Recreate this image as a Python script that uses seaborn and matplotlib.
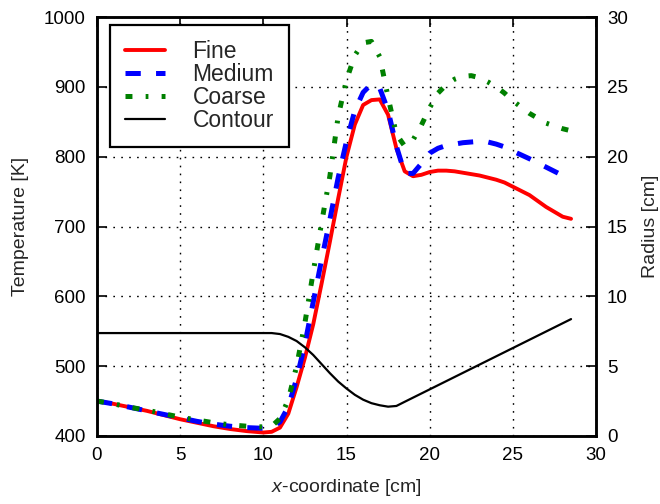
import matplotlib
matplotlib.use("Agg")
import matplotlib.pyplot as plt
import seaborn as sns
import pandas as pd

# Axial positions shared by the temperature profiles [cm]
x_cm = [0, 1, 2, 3, 4, 5, 6, 7, 8, 9, 10,
        10.5, 11, 11.5, 12, 12.5, 13, 13.5, 14, 14.5, 15, 15.5, 16, 16.5,
        17, 17.5, 18, 18.5, 19, 19.5, 20, 20.5, 21, 21.5, 22, 22.5, 23,
        23.5, 24, 24.5, 25, 26, 27, 28, 28.5]

# Temperature profiles for the three grid resolutions [K]
fine = [450, 446, 441, 436, 430, 424, 419, 414, 410, 407, 405,
        406, 412, 432, 470, 512, 560, 618, 678, 740, 800, 846, 874, 881,
        882, 860, 812, 779, 772, 774, 778, 780, 780, 779, 777, 775, 773,
        770, 767, 763, 757, 745, 728, 714, 711]
medium = [450, 446, 441, 436, 431, 426, 421, 417, 414, 412, 411,
          413, 420, 442, 482, 532, 592, 652, 710, 770, 822, 866, 892, 904,
          898, 866, 815, 776, 776, 790, 805, 812, 816, 818, 820, 821, 822,
          821, 818, 814, 808, 797, 785, 773, 770]
coarse = [450, 446, 441, 437, 432, 427, 423, 419, 416, 414, 413,
          414, 425, 452, 500, 562, 635, 705, 772, 858, 910, 945, 963, 965,
          943, 885, 832, 815, 824, 845, 870, 891, 903, 911, 915, 916, 913,
          907, 900, 891, 880, 862, 848, 840, 837]

# Nozzle wall contour [cm]
x_contour = [0, 10.5, 11, 11.5, 12, 12.5, 13, 13.5, 14, 14.5, 15, 15.5,
             16, 16.5, 17, 17.5, 18, 18.5, 28.5]
radius = [7.37, 7.37, 7.3, 7.1, 6.8, 6.35, 5.8, 5.15, 4.5, 3.9, 3.4, 2.95,
          2.6, 2.35, 2.2, 2.1, 2.15, 2.45, 8.37]

x_ticks = [0, 5, 10, 15, 20, 25, 30]
t_ticks = [400, 500, 600, 700, 800, 900, 1000]
r_ticks = [0, 5, 10, 15, 20, 25, 30]

sns.set_style("white")
plt.rcParams["font.family"] = ["Liberation Sans", "DejaVu Sans"]
plt.rcParams["lines.scale_dashes"] = False
plt.rcParams["mathtext.fontset"] = "custom"
plt.rcParams["mathtext.it"] = "Liberation Sans:italic"
plt.rcParams["mathtext.rm"] = "Liberation Sans"

temps = pd.DataFrame({"x": x_cm, "Fine": fine, "Medium": medium, "Coarse": coarse})
wall = pd.DataFrame({"x": x_contour, "r": radius})

fig = plt.figure(figsize=(6.6, 5.04), dpi=100)
ax = fig.add_axes([97 / 660, 1 - 436 / 504, 499 / 660, 419 / 504])
ax2 = ax.twinx()

sns.lineplot(data=temps, x="x", y="Fine", ax=ax, color="#ff0000",
             linewidth=2.8, sort=False, label="Fine")
sns.lineplot(data=temps, x="x", y="Medium", ax=ax, color="#0000ff",
             linewidth=3.6, sort=False, label="Medium",
             linestyle=(0, (11, 11)))
sns.lineplot(data=temps, x="x", y="Coarse", ax=ax, color="#008000",
             linewidth=3.6, sort=False, label="Coarse",
             linestyle=(0, (5, 9.5, 2, 9.5)))
sns.lineplot(data=wall, x="x", y="r", ax=ax2, color="black",
             linewidth=1.6, sort=False, label="Contour")

ax.set_xlim(0, 30)
ax.set_ylim(400, 1000)
ax2.set_ylim(0, 30)
ax.set_xticks(x_ticks)
ax.set_yticks(t_ticks)
ax2.set_yticks(r_ticks)

ax.grid(True, color="black", linestyle=(0, (1.2, 4.5)), linewidth=1.0)
ax.set_axisbelow(True)

for a in (ax, ax2):
    for s in a.spines.values():
        s.set_linewidth(1.8)
        s.set_color("black")
ax.tick_params(axis="both", direction="in", length=7, width=1.2,
               labelsize=13.5, pad=8, top=True, right=False, colors="black")
ax2.tick_params(axis="y", direction="in", length=7, width=1.2,
                labelsize=13.5, pad=8, colors="black")

ax.set_xlabel("$x$-coordinate [cm]", fontsize=14, labelpad=9)
ax.set_ylabel("Temperature [K]", fontsize=14, labelpad=11)
ax2.set_ylabel("Radius [cm]", fontsize=14, labelpad=10)

h1, l1 = ax.get_legend_handles_labels()
h2, l2 = ax2.get_legend_handles_labels()
ax.get_legend().remove()
ax2.get_legend().remove()
leg = ax2.legend(h1 + h2, l1 + l2, loc="upper left",
                 bbox_to_anchor=(0.026, 0.981), borderaxespad=0,
                 fontsize=16.5, handlelength=1.75, handletextpad=1.2,
                 labelspacing=0.0, borderpad=0.65, fancybox=False,
                 framealpha=1, edgecolor="black")
leg.get_frame().set_linewidth(1.6)

fig.savefig("out.png", dpi=100)
